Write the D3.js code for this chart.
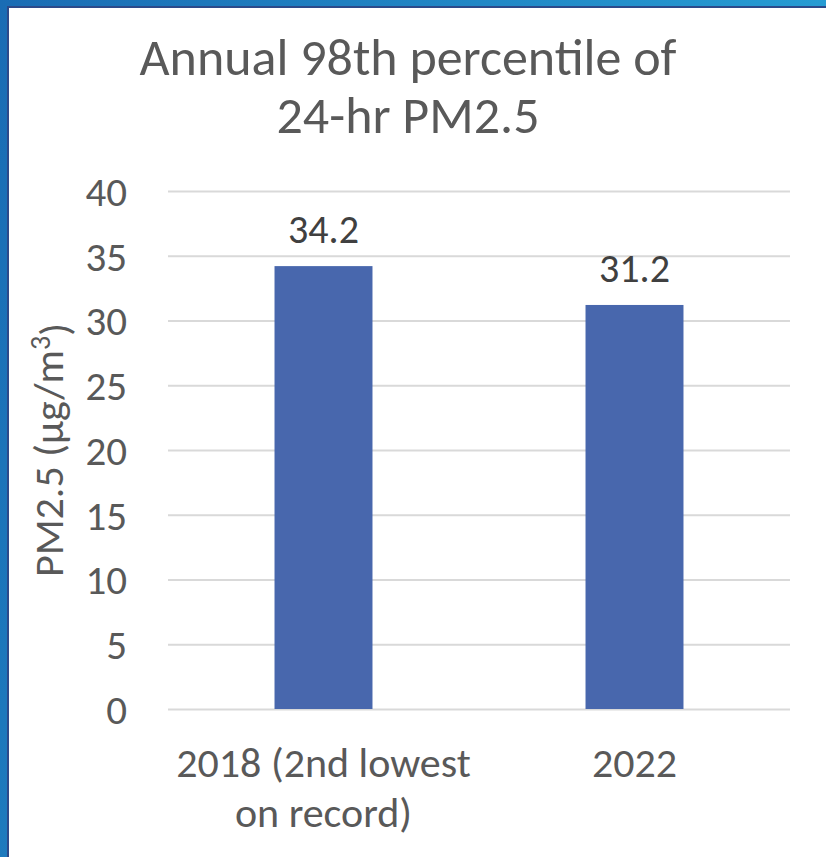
<!DOCTYPE html>
<html>
<head>
<meta charset="utf-8">
<script src="https://cdn.jsdelivr.net/npm/d3@7"></script>
<style>
  html, body { margin: 0; padding: 0; background: #fff; }
  svg { display: block; }
</style>
</head>
<body>
<div id="main"></div>
<script>
const width = 826;
const height = 857;

// chart data
const categories = [["2018 (2nd lowest", "on record)"], ["2022"]];
const values = [34.2, 31.2];
const yTicks = [0, 5, 10, 15, 20, 25, 30, 35, 40];
const titleLines = ["Annual 98th percentile of", "24-hr PM2.5"];

const font = "Carlito, Calibri, Lato, sans-serif";
const textColor = "#595959";

const plot = { left: 168, right: 790, top: 191, bottom: 709 };

const svg = d3.select("#main").append("svg").attr("width", width).attr("height", height);

// slide frame: blue gradient with dark edge
const defs = svg.append("defs");
const grad = defs.append("linearGradient").attr("id", "frame").attr("x1", "0").attr("y1", "0").attr("x2", "1").attr("y2", "0.3");
grad.append("stop").attr("offset", "0").attr("stop-color", "#1a6cb4");
grad.append("stop").attr("offset", "1").attr("stop-color", "#27a0d6");
svg.append("rect").attr("width", width).attr("height", height).attr("fill", "url(#frame)");
svg.append("rect").attr("x", 7).attr("y", 6).attr("width", width).attr("height", height).attr("fill", "#2c4a8a");
svg.append("rect").attr("x", 9).attr("y", 8).attr("width", width).attr("height", height).attr("fill", "#ffffff");

const x = d3
  .scaleBand()
  .domain(categories.map((c) => c[0]))
  .range([plot.left, plot.right])
  .paddingInner(0.685)
  .paddingOuter(0.3425);

const y = d3.scaleLinear().domain([0, 40]).range([plot.bottom, plot.top]);

// gridlines
const grid = svg
  .append("g")
  .attr("transform", `translate(${plot.left},0)`)
  .call(d3.axisLeft(y).tickValues(yTicks).tickSize(-(plot.right - plot.left)).tickFormat(""));
grid.select(".domain").remove();
grid.selectAll("line").attr("stroke", "#d9d9d9").attr("stroke-width", 2);

// y axis labels
const yAxis = svg
  .append("g")
  .attr("transform", `translate(${plot.left},0)`)
  .call(d3.axisLeft(y).tickValues(yTicks).tickSize(0).tickPadding(41));
yAxis.select(".domain").remove();
yAxis
  .selectAll("text")
  .attr("fill", textColor)
  .attr("dy", "0.35em")
  .style("font-family", font)
  .style("font-size", "41px");

// bars
svg
  .selectAll(".bar")
  .data(values)
  .enter()
  .append("rect")
  .attr("class", "bar")
  .attr("x", (d, i) => x(categories[i][0]))
  .attr("y", (d) => y(d))
  .attr("width", x.bandwidth())
  .attr("height", (d) => y(0) - y(d))
  .attr("fill", "#4867ad");

// data labels
svg
  .selectAll(".label")
  .data(values)
  .enter()
  .append("text")
  .attr("class", "label")
  .attr("x", (d, i) => x(categories[i][0]) + x.bandwidth() / 2)
  .attr("y", (d) => y(d) - 23)
  .attr("text-anchor", "middle")
  .attr("fill", "#404040")
  .style("font-family", font)
  .style("font-size", "40px")
  .text((d) => d.toFixed(1));

// category labels
const catLabels = svg
  .selectAll(".cat")
  .data(categories)
  .enter()
  .append("text")
  .attr("class", "cat")
  .attr("text-anchor", "middle")
  .attr("fill", textColor)
  .style("font-family", font)
  .style("font-size", "42px");

catLabels
  .selectAll("tspan")
  .data((c) => c.map((line) => ({ line, key: c[0] })))
  .enter()
  .append("tspan")
  .attr("x", (d) => x(d.key) + x.bandwidth() / 2)
  .attr("y", (d, i) => 777 + i * 50)
  .text((d) => d.line);

// title, one text per line
svg
  .selectAll(".title")
  .data(titleLines)
  .enter()
  .append("text")
  .attr("class", "title")
  .attr("text-anchor", "middle")
  .attr("fill", textColor)
  .style("font-family", font)
  .style("font-size", "52px")
  .attr("x", 408)
  .attr("y", (d, i) => 75 + i * 58)
  .text((d) => d);

// y axis title
const yTitle = svg
  .append("text")
  .attr("transform", `translate(63,${(plot.top + plot.bottom) / 2}) rotate(-90)`)
  .attr("text-anchor", "middle")
  .attr("fill", textColor)
  .style("font-family", font)
  .style("font-size", "42px");
yTitle.append("tspan").text("PM2.5 (µg/m");
yTitle.append("tspan").attr("dy", "-0.45em").style("font-size", "28px").text("3");
yTitle.append("tspan").attr("dy", "0.45em").text(")");
</script>
</body>
</html>
